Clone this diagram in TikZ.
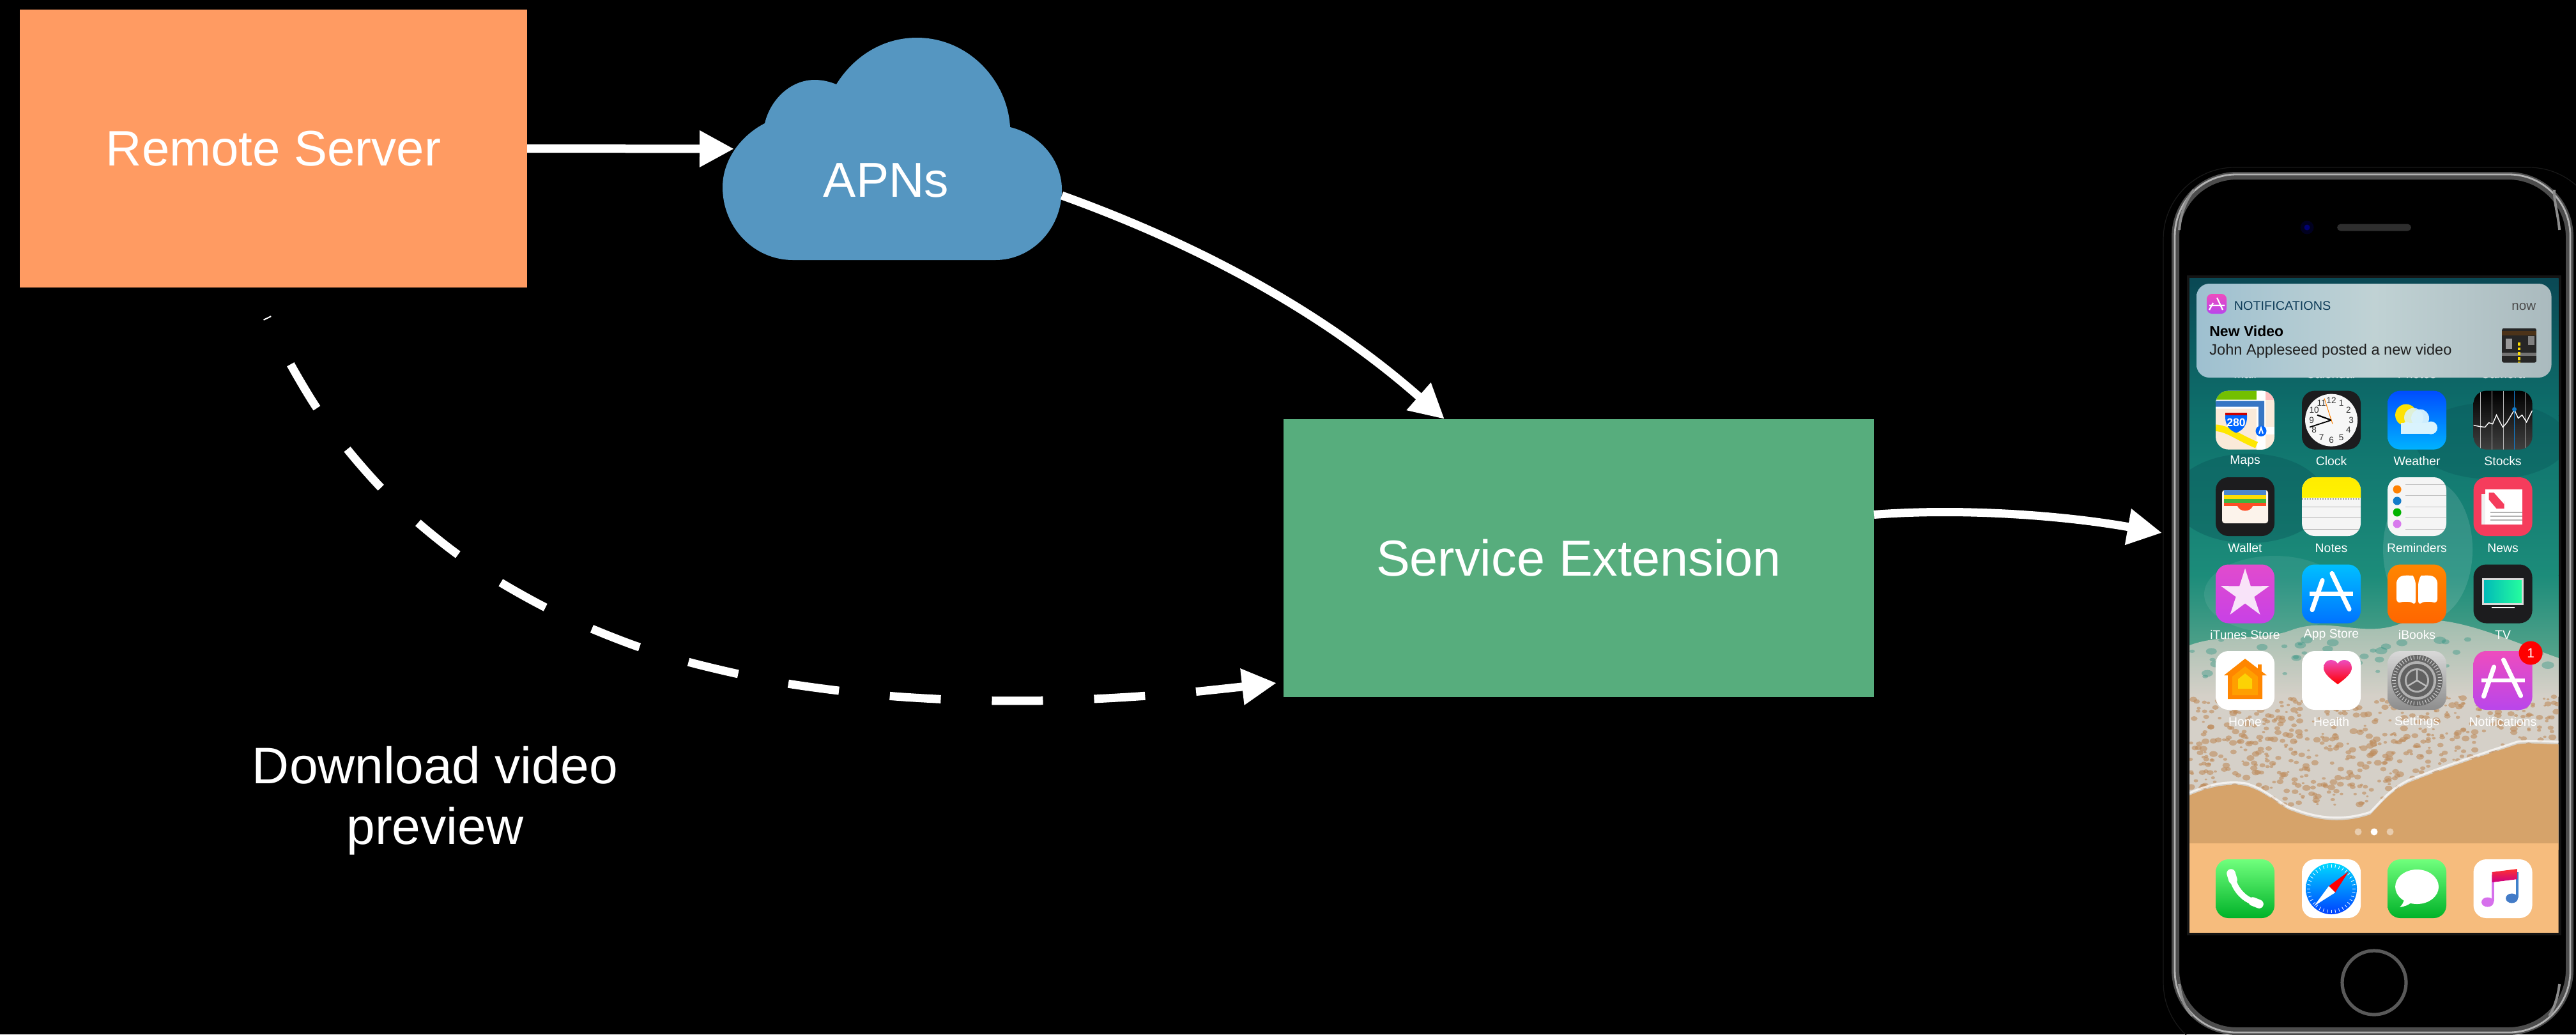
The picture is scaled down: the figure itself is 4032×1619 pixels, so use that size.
\documentclass[tikz,border=0pt]{standalone}
\usepackage{fontspec}
\setmainfont{Liberation Sans}
\usetikzlibrary{arrows.meta,shadings}
\definecolor{serverc}{RGB}{255,155,98}
\definecolor{cloudc}{RGB}{85,150,193}
\definecolor{extc}{RGB}{87,173,125}
\definecolor{dockc}{RGB}{246,188,125}
\definecolor{sandc}{RGB}{214,163,106}
\definecolor{tint}{RGB}{28,28,30}
\definecolor{wtop}{RGB}{10,72,84}
\definecolor{wmid}{RGB}{14,112,108}
\definecolor{wlow}{RGB}{28,140,122}
\definecolor{wshore}{RGB}{90,165,140}
\definecolor{wdark}{RGB}{8,80,85}
\definecolor{foam}{RGB}{213,208,200}
\definecolor{speck}{RGB}{190,140,92}
\definecolor{cardl}{RGB}{158,192,208}
\definecolor{cardm}{RGB}{192,210,212}
\definecolor{cardr}{RGB}{170,186,190}
\definecolor{pinkt}{RGB}{238,76,190}
\definecolor{purpb}{RGB}{185,70,235}
\definecolor{itunt}{RGB}{225,75,205}
\definecolor{itunb}{RGB}{200,65,230}
\definecolor{newsr}{RGB}{245,60,92}
\definecolor{greent}{RGB}{112,255,125}
\definecolor{greenb}{RGB}{0,178,40}
\definecolor{shadowb}{RGB}{25,110,160}
\newcommand{\fs}[1]{\fontsize{#1}{#1}\selectfont}
% icon: x, y, fill options, contents (drawn relative to the icon centre, clipped)
\newcommand{\appicon}[4]{%
  \begin{scope}[shift={(#1,#2)}]
    \path[rounded corners=5pt,#3] (-46,-46) rectangle (46,46);
    \begin{scope}
      \clip[rounded corners=5pt] (-46,-46) rectangle (46,46);
      #4
    \end{scope}
  \end{scope}}
\newcommand{\appA}{%
  \draw[white,line width=1.8pt,line cap=round] (1,-32) -- (28,24);
  \draw[white,line width=1.8pt,line cap=round] (-14,-21) -- (-30,25);
  \draw[white,line width=1.7pt] (-34,0) -- (34,0);}
\tikzset{
  box/.style={inner sep=0pt,outer sep=0pt,text=white,align=center,font=\fs{19.5}},
  flow/.style={draw=white,line width=3.25pt,-{Triangle[length=13.5pt,width=13.5pt]}},
  applabel/.style={text=white,inner sep=0pt,font=\fs{4.85}},
  dial/.style={text=black!80,inner sep=0pt,font=\fs{3.4}},
  cardtext/.style={inner sep=0pt,anchor=base west}
}
\begin{document}
\begin{tikzpicture}[x=0.25pt,y=-0.25pt]
\useasboundingbox (0,0) rectangle (4032,1619);
\fill[black] (0,0) rectangle (4032,1619);

% ---- diagram boxes
\node[box,fill=serverc,minimum width=198.5pt,minimum height=108.75pt] (server) at (428,232.5) {Remote Server};
\node[box,fill=extc,minimum width=231pt,minimum height=108.75pt,font=\fs{19.8}] (ext) at (2471,873.5) {Service Extension};
\fill[cloudc] (1241,407) .. controls (1180,407) and (1131,356) .. (1131,293)
  .. controls (1131,250) and (1160,212) .. (1197,193)
  .. controls (1206,155) and (1238,125) .. (1275,125)
  .. controls (1288,125) and (1299,128) .. (1309,132)
  .. controls (1335,90) and (1380,59) .. (1435,59)
  .. controls (1515,59) and (1577,125) .. (1581,199)
  .. controls (1627,210) and (1662,250) .. (1662,297)
  .. controls (1662,358) and (1615,407) .. (1558,407) -- cycle;
\node[box,minimum width=132.75pt,minimum height=87pt] (apns) at (1396.5,233) {};
\node[box,font=\fs{19.2}] (apnstext) at (1387,282) {APNs};
\node[box,font=\fs{20.1}] (dl1) at (681,1198) {Download video};
\node[box,font=\fs{20.1}] (dl2) at (681,1301) {preview};

% ---- connectors
\draw[flow] (server.east) -- ([xshift=4.5pt]apns.west);
\draw[flow] ([yshift=-18.25pt]apns.east) .. controls +(200,72) and ([shift={(13pt,44pt)}]ext.north west) .. ([xshift=63pt]ext.north west);
\draw[flow] ([yshift=17pt]ext.east) .. controls +(129,-10) and (3220,805) .. (3384,834);
\coordinate (dlstart) at ([xshift=-2.5pt,yshift=-11.75pt]server.south);
\coordinate (dlend) at ([xshift=-2.75pt,yshift=5.5pt]ext.south west);
\draw[flow,dash pattern=on 20pt off 20pt,dash phase=19.5pt] plot[smooth,tension=.5] coordinates {(dlstart) (454.6,569.8) (495.4,638) (542.9,702.4) (595.4,762.4) (654,818) (716.3,867.8) (783.7,911.8) (852.6,950.2) (926,984) (1000,1012.7) (1077,1036) (1154.6,1054.7) (1233,1070) (1312.5,1081) (1391.8,1089.3) (1471.6,1094.3) (1551.4,1096.7) (1631,1096.7) (1711.5,1094) (1791.3,1089.3) (1870.6,1082.7) (dlend)};

% ---- iPhone body
\draw[black!90,line width=.3pt,rounded corners=28pt] (3386,262) rectangle (4070,1650);
\draw[black!70,line width=3pt,rounded corners=24pt] (3405,275) rectangle (4022,1614);
\draw[black!30,line width=.7pt,rounded corners=24pt] (3404,273) rectangle (4023,1616);
\draw[black!45,line width=1pt] (3411,360) .. controls (3413,335) and (3420,315) .. (3434,297);
\draw[black!45,line width=1pt] (4006,360) .. controls (4004,335) and (3997,315) .. (3998,297);
\draw[black!45,line width=1pt] (3411,1540) .. controls (3413,1560) and (3420,1580) .. (3432,1590);
\draw[black!45,line width=1pt] (4006,1540) .. controls (4004,1560) and (3997,1580) .. (3990,1590);
\fill[black!88!blue] (3611,356) circle (10.5);
\fill[blue!45!black] (3611,356) circle (4.5);
\fill[black!82,rounded corners=1.4pt] (3658,350.5) rectangle (3774,361.5);
\draw[black!65,line width=1.3pt] (3716,1538) circle (50);

% ---- wallpaper
\fill[black!92] (3423,431) rectangle (4009,1464);
\begin{scope}
\clip (3427,435) rectangle (4004.5,1460);
\shade[top color=wtop,bottom color=wmid] (3427,435) rectangle (4005,650);
\shade[top color=wmid,bottom color=wlow] (3427,650) rectangle (4005,900);
\shade[top color=wlow,bottom color=wshore] (3427,900) rectangle (4005,1040);
\fill[wdark,opacity=.35] (3520,780) ellipse (120 and 70);
\fill[wdark,opacity=.3] (3900,690) ellipse (120 and 60);
\fill[white,opacity=.12] (3800,860) ellipse (70 and 110);
\fill[white,opacity=.08] (3560,930) ellipse (110 and 60);
% foam
\begin{scope}
\clip (3427,1010) .. controls (3480,990) and (3540,1005) .. (3590,985) .. controls (3650,965) and (3700,1000) .. (3760,975) .. controls (3830,955) and (3920,1000) .. (4005,1030) -- (4005,1320) -- (3427,1320) -- cycle;
\shade[top color=wshore!50!foam,bottom color=foam] (3427,950) rectangle (4005,1090);
\fill[foam] (3427,1090) rectangle (4005,1320);
\pgfmathsetseed{7341}
\foreach \i in {1,...,700}{
  \pgfmathsetmacro{\sx}{3427+rnd*578}
  \pgfmathsetmacro{\sy}{1090+rnd*170}
  \pgfmathsetmacro{\sa}{2+rnd*4.5}
  \fill[speck,opacity=.6] (\sx,\sy) ellipse ({\sa} and {\sa*.7});
}
\foreach \i in {1,...,70}{
  \pgfmathsetmacro{\sx}{3427+rnd*578}
  \pgfmathsetmacro{\sy}{1000+rnd*60}
  \pgfmathsetmacro{\sa}{3+rnd*7}
  \fill[wlow,opacity=.35] (\sx,\sy) ellipse ({\sa} and {\sa*.6});
}
\end{scope}
% sand
\fill[sandc] (3427,1245) .. controls (3450,1235) and (3480,1225) .. (3515,1230)
  .. controls (3550,1240) and (3570,1265) .. (3590,1270) .. controls (3640,1290) and (3680,1285) .. (3710,1275)
  .. controls (3730,1255) and (3740,1240) .. (3770,1225) .. controls (3820,1205) and (3880,1185) .. (3940,1165)
  .. controls (3960,1162) and (3985,1165) .. (4005,1165) -- (4005,1330) -- (3427,1330) -- cycle;
\draw[white,opacity=.7,line width=.8pt] (3427,1241) .. controls (3450,1231) and (3480,1221) .. (3515,1226)
  .. controls (3550,1236) and (3570,1261) .. (3590,1266) .. controls (3640,1286) and (3680,1281) .. (3710,1271)
  .. controls (3730,1251) and (3740,1236) .. (3770,1221) .. controls (3820,1201) and (3880,1181) .. (3940,1161)
  .. controls (3960,1158) and (3985,1161) .. (4005,1161);
\fill[dockc] (3427,1320) rectangle (4005,1460);
\end{scope}
\fill[white,opacity=.45] (3691,1302) circle (5.5) (3741,1302) circle (5.5);
\fill[white] (3716,1302) circle (5.5);

% ---- row labels under the card
\node[applabel] (lmail) at (3514,586) {Mail};
\node[applabel] (lcal) at (3649,586) {Calendar};
\node[applabel] (lpho) at (3783,586) {Photos};
\node[applabel] (lcam) at (3917.5,586) {Camera};

% ---- notification card
\shade[rounded corners=5pt,left color=cardl,right color=cardr,middle color=cardm] (3438,444) rectangle (3993.5,591);
\shade[rounded corners=2pt,top color=pinkt,bottom color=purpb] (3454,460) rectangle (3485,491);
\draw[white,line width=.55pt] (3470,466) -- (3479,485) (3464,474) -- (3458,485) (3458,478) -- (3482,478);
\node[cardtext,text=shadowb!55!black,font=\fs{4.95}] (nhead) at (3496,485) {NOTIFICATIONS};
\node[cardtext,anchor=base east,text=black!70,font=\fs{5.15}] (nnow) at (3970,485) {now};
\node[cardtext,text=black,font=\fs{5.75}\bfseries] (ntitle) at (3457.5,526.7) {New Video};
\node[cardtext,text=black!88,font=\fs{5.9}] (nbody) at (3457.5,555) {John Appleseed posted a new video};
\begin{scope}
\clip[rounded corners=.8pt] (3916,513.7) rectangle (3970,567.7);
\fill[black!85] (3916,513.7) rectangle (3970,567.7);
\fill[black!40] (3922,530) rectangle (3932,546);
\fill[black!50] (3957,526) rectangle (3967,540);
\fill[black!55] (3916,552) rectangle (3970,557);
\fill[brown!40!black] (3916,518) rectangle (3970,525);
\draw[yellow!80!orange,line width=.8pt,dash pattern=on 1.2pt off .7pt] (3943,536) -- (3943,567.7);
\end{scope}

% ---- first row
\appicon{3514}{657.6}{fill=black!12!orange!15!white}{
  \fill[green!55!black!55!yellow] (-46,-46) rectangle (18,-32);
  \fill[pink] (32,-46) rectangle (46,-32);
  \fill[white] (18,-46) rectangle (32,46) (-46,-32) rectangle (32,-18);
  \fill[white] (32,10) rectangle (46,22);
  \fill[cyan!45!blue!85!white] (-46,-30) rectangle (30,-21) (21,-30) rectangle (30,15);
  \draw[yellow!90!orange,line width=2.6pt] (-46,12) .. controls (-25,14) and (-15,25) .. (18,39);
  \fill[blue!60!cyan] (-31,-9) -- (3,-9) .. controls (4,10) and (-5,16) .. (-14,20) .. controls (-23,16) and (-32,10) .. (-31,-9) -- cycle;
  \fill[red!80!black] (-31,-12) rectangle (3,-8);
  \node[inner sep=0pt,text=white,font=\fs{4.4}\bfseries] (s280) at (-14,4) {280};
  \fill[blue!60!cyan] (25,17) circle (8.5);
  \draw[white,line width=.5pt] (22,21) -- (25,12) -- (28,21);
}
\appicon{3649}{657.6}{fill=tint}{
  \fill[black!3] (0,0) circle (41);
  \foreach \a/\n in {30/1,60/2,90/3,120/4,150/5,180/6,210/7,240/8,270/9,300/10,330/11,0/12}{
    \node[dial] (clk\n) at ({31*sin(\a)},{-31*cos(\a)}) {\n};
  }
  \draw[black,line width=.55pt] (0,0) -- (-22,-8);
  \draw[black,line width=.45pt] (0,0) -- (-34,11);
  \draw[orange,line width=.25pt] (2,6) -- (-11,-34);
}
\appicon{3783}{657.6}{top color=blue!70!cyan,bottom color=cyan!70!blue}{
  \fill[yellow!85!orange] (-17,-8) circle (17);
  \fill[white!85!cyan] (-25,21) rectangle (22,4);
  \fill[white!85!cyan,opacity=.85] (-5,-4) circle (15);
  \fill[white!85!cyan] (22,12) circle (10) (-16,12) circle (9);
  \fill[white!85!cyan,opacity=.95] (5,-3) circle (14);
}
\appicon{3917.5}{657.6}{top color=black,bottom color=black!75}{
  \foreach \x in {-35,-17,1,36}{\draw[white!70!black,line width=.15pt] (\x,-46) -- (\x,46);}
  \draw[cyan!60!blue,line width=.3pt] (18,-46) -- (18,46);
  \draw[white,line width=.35pt] (-46,8) -- (-36,10) -- (-28,11) -- (-22,4) -- (-16,6) -- (-10,-8) -- (-4,4) -- (0,11) -- (6,4) -- (12,-6) -- (18,-16) -- (24,-3) -- (30,-8) -- (37,3) -- (46,-15);
  \fill[cyan!60!blue] (18,-17) circle (3.5);
}
\node[applabel] (l1) at (3514,722) {Maps};
\node[applabel] (l2) at (3649,722) {Clock};
\node[applabel] (l3) at (3783,722) {Weather};
\node[applabel] (l4) at (3917.5,722) {Stocks};

% ---- second row
\appicon{3514}{793}{fill=tint}{
  \fill[black!15!orange!8!white,rounded corners=1pt] (-36,-26) rectangle (36,26);
  \fill[cyan!50!blue!75!white] (-33,-26) rectangle (33,-18);
  \fill[yellow!80!orange] (-33,-18) rectangle (33,-12);
  \fill[green!60!black!75!white] (-33,-12) rectangle (33,-6);
  \fill[red!65!orange!85!white] (-33,-6) rectangle (33,-1);
  \fill[red!65!orange!85!white] (-12,-1) .. controls (-8,9) and (8,9) .. (12,-1) -- cycle;
}
\appicon{3649}{793}{fill=white!96!black}{
  \shade[top color=yellow!85!orange,bottom color=yellow!90!orange] (-46,-46) rectangle (46,-15);
  \draw[black!40,line width=.3pt,dash pattern=on .5pt off .5pt] (-46,-12) -- (46,-12);
  \foreach \y in {0,17,35}{\draw[black!30,line width=.25pt] (-46,\y) -- (46,\y);}
}
\appicon{3783}{793}{fill=white!96!black}{
  \foreach \y in {-35,-18,0,17,35}{\draw[black!25,line width=.2pt] (-18,\y) -- (46,\y);}
  \fill[orange] (-31,-27) circle (6.5);
  \fill[cyan!60!blue] (-31,-9) circle (6.5);
  \fill[green!70!black] (-31,9) circle (6.5);
  \fill[itunb!70!white] (-31,27) circle (6.5);
}
\appicon{3917.5}{793}{fill=newsr}{
  \fill[black!6] (-34,-20) rectangle (-24,28);
  \fill[white] (-28,-27) rectangle (30,28);
  \fill[newsr] (-22,-22) -- (-10,-22) -- (2,-8) -- (2,3) -- (-10,3) -- (-22,-11) -- cycle;
  \fill[white] (-14,-22) -- (-9,-22) -- (2,-9) -- (2,-4) -- cycle;
  \foreach \y in {9,15,21}{\draw[black!30,line width=.5pt] (-20,\y) -- (30,\y);}
}
\node[applabel] (l5) at (3514,858) {Wallet};
\node[applabel] (l6) at (3649,858) {Notes};
\node[applabel] (l7) at (3783,858) {Reminders};
\node[applabel] (l8) at (3917.5,858) {News};

% ---- third row
\appicon{3514}{929.5}{top color=itunt,bottom color=itunb}{
  \fill[white,opacity=.85] (0,-40) -- (8.8,-12.1) -- (38,-12.4) -- (14.3,4.6) -- (23.5,32.4) -- (0,15) -- (-23.5,32.4) -- (-14.3,4.6) -- (-38,-12.4) -- (-8.8,-12.1) -- cycle;
}
\appicon{3649}{929.5}{top color=cyan!75!blue,bottom color=blue!55!cyan}{
  \appA
}
\appicon{3783}{929.5}{top color=orange!95!yellow,bottom color=orange!80!red}{
  \fill[white,rounded corners=2pt] (-32,-25) .. controls (-18,-30) and (-6,-28) .. (-2,-22) -- (-2,19) .. controls (-10,12) and (-22,12) .. (-32,16) -- cycle;
  \fill[white,rounded corners=2pt] (32,-25) .. controls (18,-30) and (6,-28) .. (2,-22) -- (2,19) .. controls (10,12) and (22,12) .. (32,16) -- cycle;
}
\appicon{3917.5}{929.5}{fill=tint}{
  \shade[left color=cyan!45!teal,right color=cyan!55!green!85!white,draw=white!85!black,line width=.6pt] (-31,-23) rectangle (31,16);
  \draw[white,line width=.5pt] (-18,21) -- (18,21);
}
\node[applabel] (l9) at (3514,994) {iTunes Store};
\node[applabel] (l10) at (3649,994) {App Store};
\node[applabel] (l11) at (3783,994) {iBooks};
\node[applabel] (l12) at (3917.5,994) {TV};

% ---- fourth row
\appicon{3514}{1065}{fill=white}{
  \fill[orange!95!yellow] (0,-34) -- (34,-8) -- (27,-8) -- (27,29) -- (-27,29) -- (-27,-8) -- (-33,-8) -- cycle;
  \fill[orange!95!yellow] (20,-25) rectangle (26,-10);
  \fill[orange!75!yellow] (0,-22) -- (20,-6) -- (20,23) -- (-20,23) -- (-20,-6) -- cycle;
  \fill[yellow!70!orange] (0,-11) -- (11,-2) -- (11,13) -- (-11,13) -- (-11,-2) -- cycle;
}
\appicon{3649}{1065}{fill=white}{
  \shade[top color=pinkt,bottom color=red] (10,6) .. controls (-5,-5) and (-12,-12) .. (-12,-20) .. controls (-12,-27) and (-7,-32) .. (-1,-32) .. controls (4,-32) and (8,-30) .. (10,-26) .. controls (12,-30) and (16,-32) .. (21,-32) .. controls (27,-32) and (32,-27) .. (32,-20) .. controls (32,-12) and (25,-5) .. (10,6) -- cycle;
}
\appicon{3783}{1065}{top color=black!15,bottom color=black!45}{
  \fill[black!60] (0,0) circle (40);
  \foreach \a in {0,7.5,...,352.5}{\draw[black!20,line width=.28pt] ({33*cos(\a)},{33*sin(\a)}) -- ({39*cos(\a)},{39*sin(\a)});}
  \fill[black!30] (0,0) circle (30);
  \fill[black!62] (0,0) circle (26);
  \fill[black!30] (0,0) circle (19);
  \fill[black!62] (0,0) circle (16);
  \draw[black!25,line width=.6pt] (0,0) -- (0,-17) (0,0) -- (15,9) (0,0) -- (-15,9);
}
\appicon{3917.5}{1065}{top color=pinkt,bottom color=purpb}{
  \appA
}
\fill[red] (3961,1022) circle (18.5);
\node[inner sep=0pt,text=white,font=\fs{5.2}] (badge) at (3961,1022) {1};
\node[applabel] (l13) at (3514,1130) {Home};
\node[applabel] (l14) at (3649,1130) {Health};
\node[applabel] (l15) at (3783,1130) {Settings};
\node[applabel] (l16) at (3917.5,1130) {Notifications};

% ---- dock
\appicon{3514}{1391}{top color=greent,bottom color=greenb}{
  \draw[white,line width=2.4pt,line cap=round] (-20,-20) .. controls (-18,0) and (0,20) .. (20,22);
  \draw[white,line width=3.4pt,line cap=round] (-22,-24) -- (-19,-14) (12,20) -- (22,24);
}
\appicon{3649}{1391}{fill=white}{
  \shade[top color=cyan!85!blue,bottom color=blue!75!cyan] (0,0) circle (40);
  \foreach \a in {0,10,...,350}{\draw[white,line width=.2pt] ({33*cos(\a)},{33*sin(\a)}) -- ({38*cos(\a)},{38*sin(\a)});}
  \fill[red] (27,-27) -- (6,6) -- (-4,-4) -- cycle;
  \fill[white] (-27,27) -- (6,6) -- (-4,-4) -- cycle;
}
\appicon{3783}{1391}{top color=greent,bottom color=greenb}{
  \fill[white] (0,-3) ellipse (34 and 27);
  \fill[white] (-20,15) .. controls (-20,22) and (-25,27) .. (-27,29) .. controls (-20,28) and (-14,26) .. (-8,21) -- cycle;
}
\appicon{3917.5}{1391}{fill=white}{
  \draw[itunb!75!white,line width=1pt] (-16,-22) -- (-16,20);
  \draw[cyan!50!blue!80!white,line width=1pt] (22,-26) -- (22,14);
  \shade[top color=red!75!pink,bottom color=red!60!magenta!80!blue] (-17,-26) -- (23,-31) -- (23,-15) -- (-17,-10) -- cycle;
  \fill[itunb!75!white] (-24,21) ellipse (9.5 and 7.5);
  \fill[cyan!45!blue!80!white] (14,15) ellipse (9.5 and 7.5);
}
\end{tikzpicture}
\end{document}
